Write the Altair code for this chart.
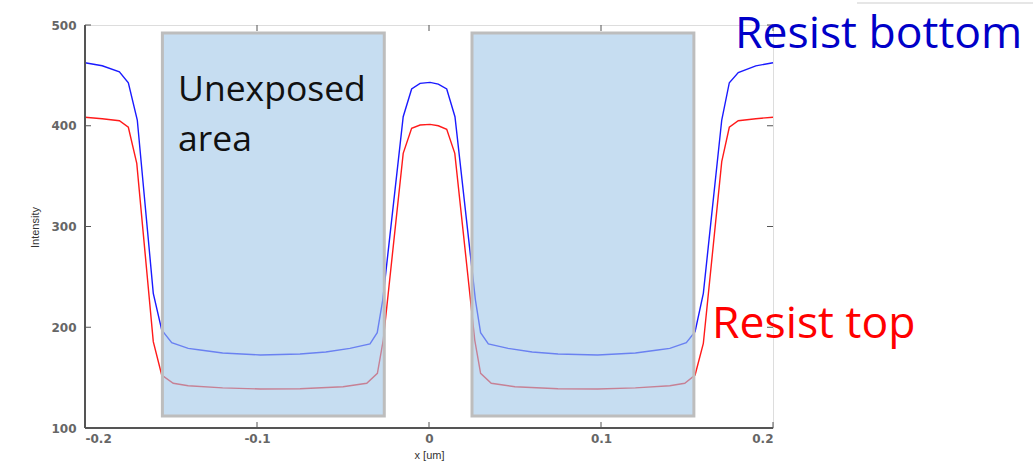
import altair as alt
import pandas as pd

# Resist bottom (blue) intensity profile
x_bottom = [-0.200, -0.190, -0.180, -0.1748, -0.1696, -0.1603, -0.1554, -0.1496, -0.140, -0.133,
            -0.120, -0.098, -0.075, -0.060, -0.046, -0.0343, -0.0301, -0.0269, -0.015, -0.0101,
            -0.0052, 0.0006, 0.0054, 0.0103, 0.0151, 0.027, 0.030, 0.0345, 0.046, 0.060,
            0.075, 0.098, 0.120, 0.133, 0.140, 0.1496, 0.1547, 0.1595, 0.1702, 0.1746,
            0.1798, 0.190, 0.200]
i_bottom = [462.5, 459.5, 453.5, 442.7, 405.7, 233.7, 197.3, 184.7, 179.0, 177.4,
            174.5, 172.5, 173.4, 175.5, 179.0, 183.5, 194.6, 227.0, 409.0, 436.5,
            442.1, 443.0, 441.4, 436.5, 409.0, 227.0, 194.6, 183.5, 179.0, 175.5,
            173.4, 172.5, 174.5, 177.4, 179.0, 184.7, 195.6, 233.7, 405.7, 442.7,
            452.7, 459.5, 462.5]

# Resist top (red) intensity profile
x_top = [-0.200, -0.190, -0.180, -0.1748, -0.1699, -0.1603, -0.1554, -0.1487, -0.140, -0.120,
         -0.098, -0.075, -0.050, -0.0362, -0.030, -0.0266, -0.015, -0.0101, -0.0052, 0.0006,
         0.0054, 0.0103, 0.015, 0.0266, 0.030, 0.0362, 0.050, 0.075, 0.098, 0.120,
         0.140, 0.1487, 0.1547, 0.1595, 0.1702, 0.1746, 0.1798, 0.190, 0.200]
i_top = [408.5, 407.0, 405.0, 398.5, 362.7, 185.7, 152.6, 144.4, 142.0, 139.8,
         138.7, 139.0, 141.0, 144.4, 154.3, 187.3, 372.6, 397.5, 400.7, 401.4,
         400.0, 396.5, 372.6, 187.3, 154.3, 144.4, 141.0, 139.0, 138.7, 139.8,
         142.0, 144.4, 152.6, 184.0, 364.3, 398.5, 405.0, 407.0, 408.5]

# Unexposed areas
area_x0 = [-0.155, 0.025]
area_x1 = [-0.026, 0.154]
area_y0 = [112, 112]
area_y1 = [492, 492]

x_ticks = [-0.2, -0.1, 0.0, 0.1, 0.2]
y_ticks = [100, 200, 300, 400, 500]

W, H = 688, 403

curves = pd.concat([
    pd.DataFrame({"x": x_bottom, "intensity": i_bottom, "series": "Resist bottom"}),
    pd.DataFrame({"x": x_top, "intensity": i_top, "series": "Resist top"}),
])
areas = pd.DataFrame({"x0": area_x0, "x1": area_x1, "y0": area_y0, "y1": area_y1})

xs = alt.Scale(domain=[-0.2, 0.2], nice=False, zero=False)
ys = alt.Scale(domain=[100, 500], nice=False, zero=False)

lab_font = "DejaVu Sans"

lines = alt.Chart(curves).mark_line(strokeWidth=1.4).encode(
    x=alt.X("x:Q", scale=xs, axis=alt.Axis(
        values=x_ticks, title="x [um]", labelExpr="'' + datum.value",
        ticks=False, grid=False, domain=False, labelFont=lab_font, labelFontSize=12,
        labelFontWeight="bold", labelColor="#666", labelPadding=5,
        titleFont="Liberation Sans", titleFontSize=11, titleFontWeight="normal",
        titleColor="#333", titleY=21)),
    y=alt.Y("intensity:Q", scale=ys, axis=alt.Axis(
        values=y_ticks, title="Intensity", format="d",
        ticks=False, grid=False, domain=False, labelFont=lab_font, labelFontSize=12,
        labelFontWeight="bold", labelColor="#666", labelPadding=9,
        titleFont="Liberation Sans", titleFontSize=11, titleFontWeight="normal",
        titleColor="#333", titleX=-45, titleY=202)),
    color=alt.Color("series:N", scale=alt.Scale(domain=["Resist bottom", "Resist top"],
                                                range=["#1a1aff", "#ff1a1a"]), legend=None),
    detail="series:N",
)

rects = alt.Chart(areas).mark_rect(fill="#a0c6e8", fillOpacity=0.6, stroke="#bdbdbd",
                                   strokeWidth=3, strokeOpacity=1).encode(
    x=alt.X("x0:Q", scale=xs), x2="x1:Q",
    y=alt.Y("y0:Q", scale=ys), y2="y1:Q",
)

xt = pd.DataFrame({"v": x_ticks})
yt = pd.DataFrame({"v": y_ticks})
tick_col = "#555"
tb = alt.Chart(xt).mark_rule(color=tick_col, strokeWidth=1).encode(
    x=alt.X("v:Q", scale=xs), y=alt.value(H), y2=alt.value(H - 6))
tt = alt.Chart(xt).mark_rule(color=tick_col, strokeWidth=1).encode(
    x=alt.X("v:Q", scale=xs), y=alt.value(0), y2=alt.value(6))
tl = alt.Chart(yt).mark_rule(color=tick_col, strokeWidth=1).encode(
    y=alt.Y("v:Q", scale=ys), x=alt.value(0), x2=alt.value(6))
tr = alt.Chart(yt).mark_rule(color=tick_col, strokeWidth=1).encode(
    y=alt.Y("v:Q", scale=ys), x=alt.value(W), x2=alt.value(W - 6))

# Left and bottom axis lines, a little heavier than the frame
frame_lb = alt.Chart(pd.DataFrame({"a": [0]})).mark_rule(color="#555", strokeWidth=2).encode(
    x=alt.value(0), y=alt.value(0), y2=alt.value(H))
frame_b = alt.Chart(pd.DataFrame({"a": [0]})).mark_rule(color="#555", strokeWidth=2).encode(
    x=alt.value(0), x2=alt.value(W), y=alt.value(H))

ann_font = "Open Sans"
labels = pd.DataFrame({
    "t": ["Unexposed", "area", "Resist bottom", "Resist top"],
    "px": [93, 93, 650, 627],
    "py": [76, 126, 23, 313],
    "size": [35.5, 35.5, 44.5, 44.5],
    "col": ["#111111", "#111111", "#0000c8", "#ff0000"],
})
texts = alt.Chart(labels).mark_text(font=ann_font, align="left", baseline="alphabetic").encode(
    text="t:N", x=alt.X("px:Q", scale=None), y=alt.Y("py:Q", scale=None),
    size=alt.Size("size:Q", scale=None, legend=None),
    color=alt.Color("col:N", scale=None, legend=None),
)

artifact = alt.Chart(pd.DataFrame({"a": [0]})).mark_rule(color="#e6e6e6", strokeWidth=2).encode(
    x=alt.value(772), x2=alt.value(948), y=alt.value(-22))

chart = alt.layer(lines, rects, tb, tt, tl, tr, frame_lb, frame_b, texts, artifact).properties(
    width=W, height=H,
    autosize=alt.AutoSizeParams(type="none"),
    padding={"left": 85, "top": 25, "right": 260, "bottom": 34},
).configure_view(stroke="#666", strokeWidth=1.5).configure(background="white")

chart.save("out.html", embed_options={"renderer": "svg", "actions": False})
